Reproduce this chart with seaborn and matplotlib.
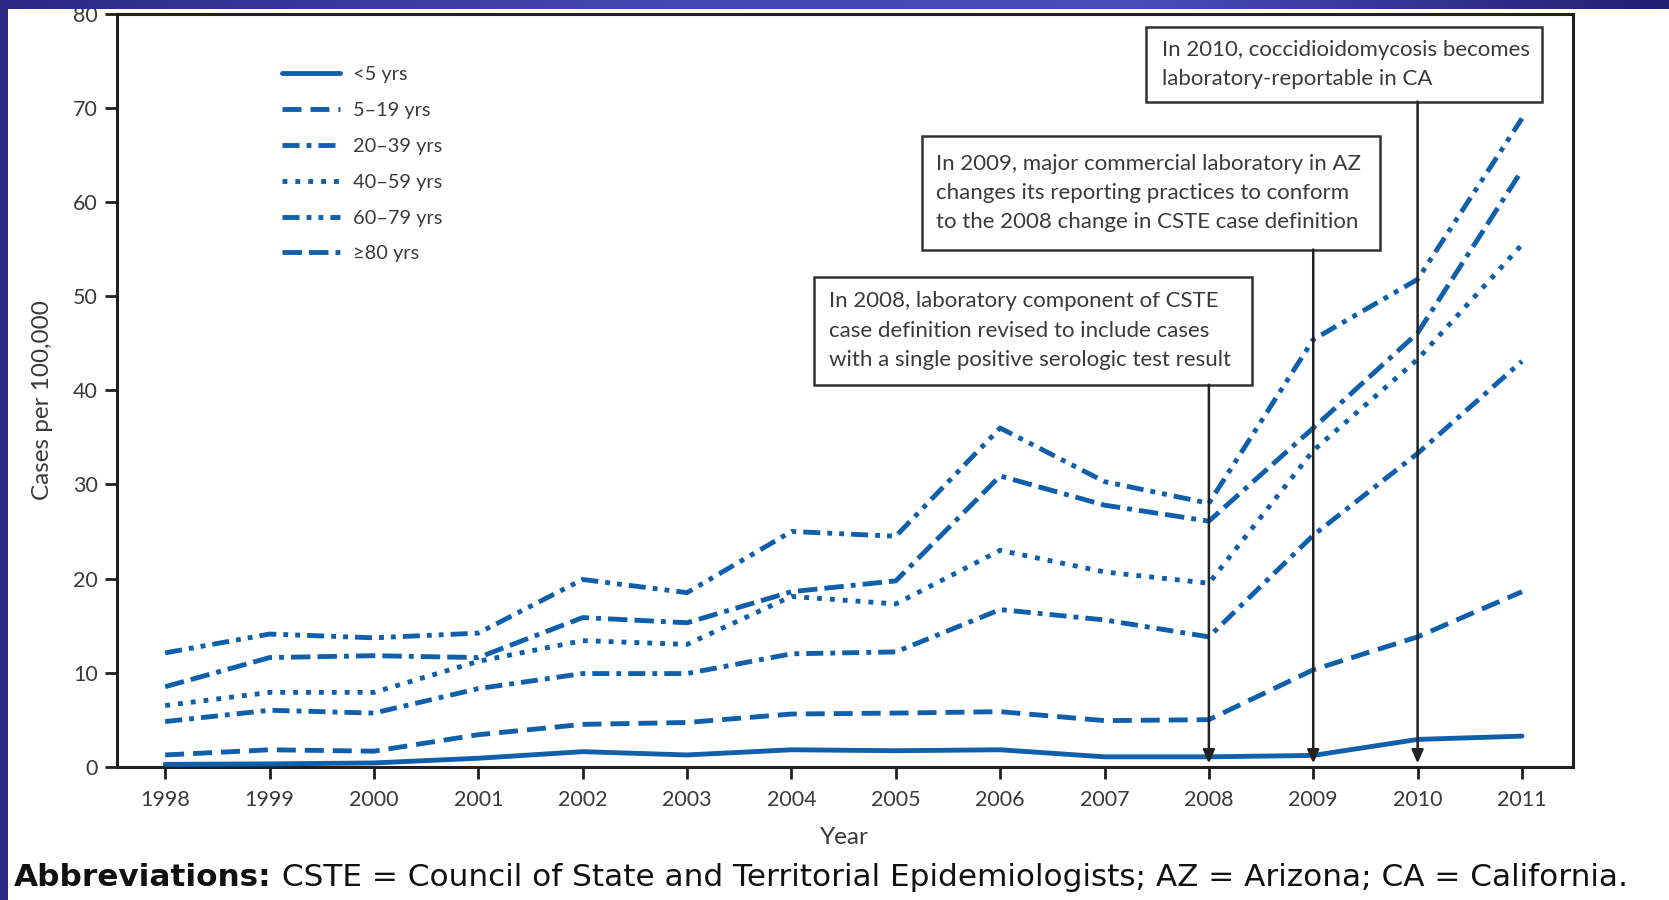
import numpy as np
import pandas as pd
import matplotlib.pyplot as plt
import seaborn as sns
from matplotlib.lines import Line2D
from matplotlib.patches import Rectangle
from matplotlib.colors import LinearSegmentedColormap

# incidence of coccidioidomycosis, cases per 100,000, by age group
years = list(range(1998, 2012))
age_groups = ['<5 yrs', '5–19 yrs', '20–39 yrs', '40–59 yrs', '60–79 yrs', '≥80 yrs']

rate_under5 = [0.25, 0.3, 0.4, 0.9, 1.6, 1.25, 1.8, 1.7, 1.8, 1.05, 1.05, 1.2, 2.9, 3.25]
rate_5_19 = [1.25, 1.8, 1.65, 3.4, 4.5, 4.7, 5.6, 5.7, 5.85, 4.9, 5.0, 10.3, 13.8, 18.6]
rate_20_39 = [4.8, 6.0, 5.7, 8.3, 9.9, 9.9, 12.0, 12.2, 16.7, 15.6, 13.8, 24.6, 33.3, 43.1]
rate_40_59 = [6.5, 7.9, 7.9, 11.2, 13.4, 13.0, 18.1, 17.3, 23.0, 20.7, 19.5, 33.6, 43.3, 55.5]
rate_60_79 = [12.1, 14.1, 13.7, 14.2, 19.9, 18.5, 25.0, 24.5, 36.0, 30.3, 28.0, 45.4, 51.8, 68.9]
rate_80plus = [8.5, 11.6, 11.8, 11.6, 15.85, 15.3, 18.6, 19.75, 30.9, 27.8, 26.1, 36.0, 46.1, 63.4]

event_years = [2008, 2009, 2010]
event_notes = [
    'In 2008, laboratory component of CSTE\ncase definition revised to include cases\nwith a single positive serologic test result',
    'In 2009, major commercial laboratory in AZ\nchanges its reporting practices to conform\nto the 2008 change in CSTE case definition',
    'In 2010, coccidioidomycosis becomes\nlaboratory-reportable in CA',
]

rates = [rate_under5, rate_5_19, rate_20_39, rate_40_59, rate_60_79, rate_80plus]
df = pd.DataFrame({
    'Year': years * len(age_groups),
    'Rate': [v for r in rates for v in r],
    'Age group': [g for g in age_groups for _ in years],
})

BLUE = '#0f5fab'
INK = '#231f20'
GREY_TXT = '#3a3a3a'
LW = 3.5

# dash patterns in units of line width
dash_map = {
    '<5 yrs': '',
    '5–19 yrs': (3.9, 1.85),
    '20–39 yrs': (3.5, 1.45, 1.0, 1.45),
    '40–59 yrs': (1.0, 1.65),
    '60–79 yrs': (3.5, 1.45, 1.0, 1.45, 1.0, 1.45),
    '≥80 yrs': (4.0, 1.45, 4.0, 1.45, 1.0, 1.45),
}

sns.set_style('ticks')
plt.rcParams['font.family'] = ['Lato', 'DejaVu Sans']

fig = plt.figure(figsize=(16.69, 9), dpi=100)
ax = fig.add_axes([0.0699, 0.1481, 0.8724, 0.8363])

sns.lineplot(data=df, x='Year', y='Rate', style='Age group', style_order=age_groups,
             dashes=dash_map, color=BLUE, linewidth=LW, estimator=None,
             legend=False, ax=ax, zorder=3)

ax.set_xlim(1997.535, 2011.486)
ax.set_ylim(0, 80)
ax.set_xticks(years)
ax.set_yticks(range(0, 81, 10))
ax.tick_params(axis='both', direction='out', length=8.5, width=2, color=INK,
               labelsize=15.5, labelcolor=GREY_TXT)
ax.tick_params(axis='x', pad=8)
ax.tick_params(axis='y', pad=5)
for s in ax.spines.values():
    s.set_visible(True)
    s.set_linewidth(2.2)
    s.set_color(INK)

ax.set_ylabel('Cases per 100,000', fontsize=17.5, color=GREY_TXT)
ax.yaxis.set_label_coords(-0.0506, 0.487)
ax.yaxis.label.set_va('center')
ax.set_xlabel('Year', fontsize=17.5, color=GREY_TXT)
ax.xaxis.set_label_coords(0.5, -0.0934)
ax.xaxis.label.set_va('center')

# legend
handles = []
for g in age_groups:
    if dash_map[g] == '':
        handles.append(Line2D([], [], color=BLUE, lw=LW, linestyle='-'))
    else:
        handles.append(Line2D([], [], color=BLUE, lw=LW, dashes=dash_map[g]))
ax.legend(handles, age_groups, loc='upper left', bbox_to_anchor=(0.1135, 0.931),
          frameon=False, fontsize=14.4, handlelength=2.9, handletextpad=0.65,
          labelspacing=0.945, borderpad=0, borderaxespad=0,
          labelcolor=GREY_TXT)

# annotation boxes: (left, bottom, right, top) in data units
boxes = [(2004.217, 40.6, 2008.413, 52.1),
         (2005.252, 54.97, 2009.64, 67.0),
         (2007.398, 70.7, 2011.193, 78.6)]
text_x = [2004.358, 2005.384, 2007.548]
for yr, note, (x0, y0, x1, y1), tx in zip(event_years, event_notes, boxes, text_x):
    ax.add_patch(Rectangle((x0, y0), x1 - x0, y1 - y0, facecolor='white',
                           edgecolor='#333333', lw=1.8, zorder=4, clip_on=False))
    ax.text(tx, (y0 + y1) / 2, note, ha='left', va='center', fontsize=16,
            color=GREY_TXT, linespacing=1.58, zorder=5)
    ax.annotate('', xy=(yr, 0.35), xytext=(yr, y0),
                arrowprops=dict(arrowstyle='-|>,head_length=0.8,head_width=0.35',
                                color='#222222', lw=1.8, shrinkA=0, shrinkB=0),
                zorder=4)

# footnote
fy = (900 - 886) / 900
t1 = fig.text(0.0084, fy, 'Abbreviations:', fontsize=22.4, fontweight='bold',
              family='DejaVu Sans', va='baseline', color='#111111')
renderer = fig.canvas.get_renderer()
bb = t1.get_window_extent(renderer)
fig.text(bb.x1 / fig.bbox.width, fy,
         ' CSTE = Council of State and Territorial Epidemiologists; AZ = Arizona; CA = California.',
         fontsize=22.4, family='DejaVu Sans', va='baseline', color='#111111')

# slide frame: left stripe and gradient top bar
fig.add_artist(Rectangle((0, 0), 8 / 1669, 1, transform=fig.transFigure,
                         facecolor='#2b2a84', edgecolor='none', zorder=10))
bar = fig.add_axes([0, 1 - 9 / 900, 1, 9 / 900], zorder=10)
cmap = LinearSegmentedColormap.from_list(
    'bar', [(0, '#2a2a84'), (0.35, '#4444ad'), (0.68, '#4b4bbb'), (1, '#1f1f70')])
bar.imshow(np.linspace(0, 1, 512)[None, :], aspect='auto', cmap=cmap)
bar.axis('off')

fig.savefig('out.png', dpi=100)
